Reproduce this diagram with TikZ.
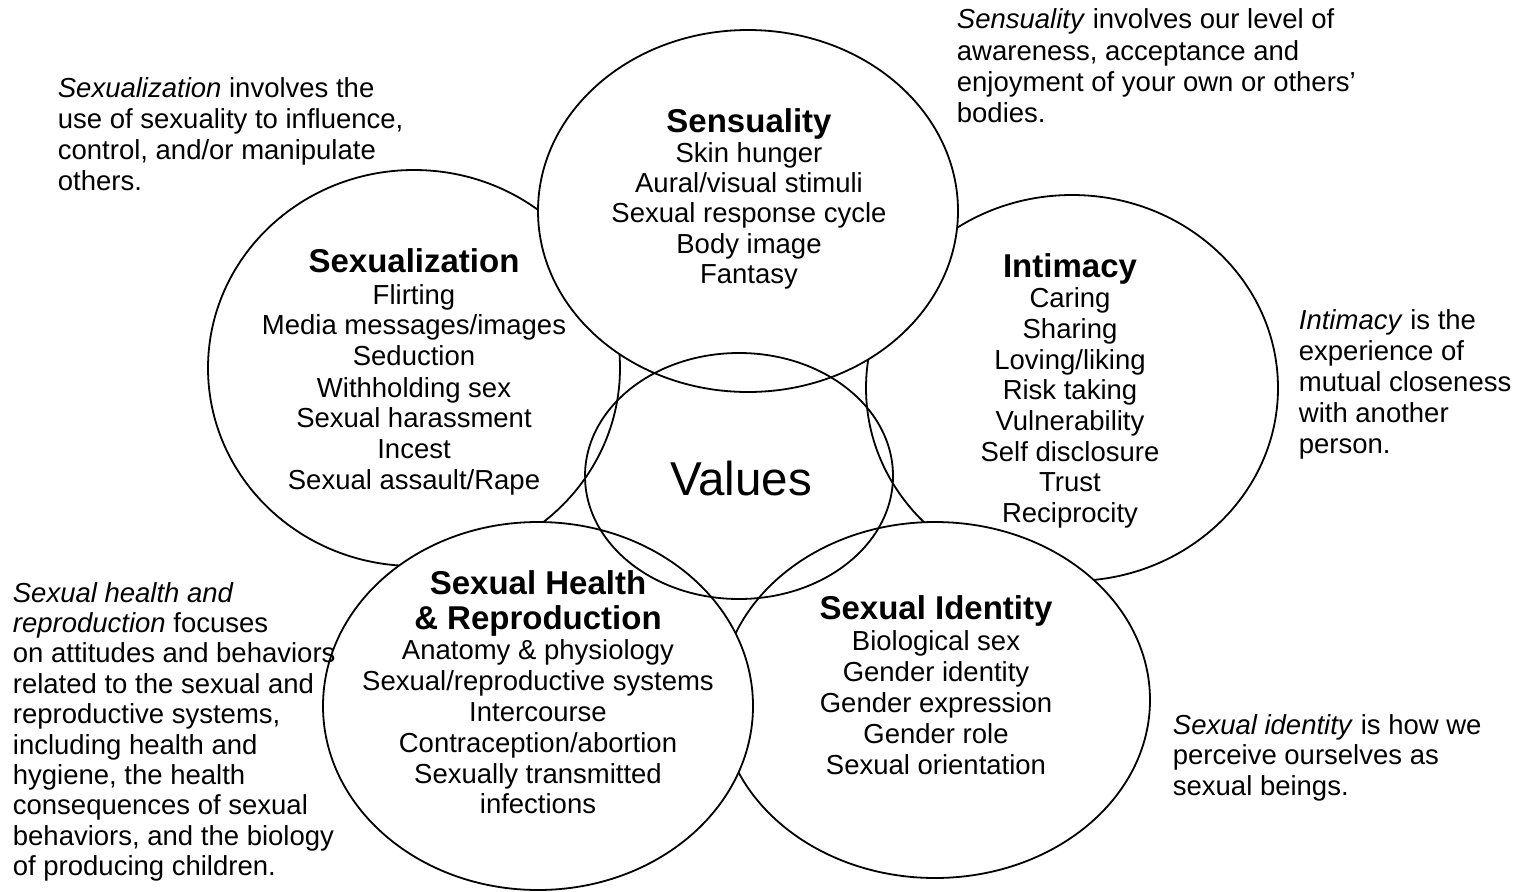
\documentclass[tikz,border=0pt]{standalone}
\usepackage{fontspec}
\setmainfont{Liberation Sans}

\begin{document}
\begin{tikzpicture}[x=1pt,y=-1pt,line width=1.8pt,
  bubble/.style={draw,fill=white},
  ring/.style={draw},
  head/.style={anchor=base,inner sep=0pt,font=\fontsize{33}{36}\selectfont\bfseries},
  item/.style={anchor=base,inner sep=0pt,font=\fontsize{27.5}{30}\selectfont},
  note/.style={anchor=base west,inner sep=0pt,font=\fontsize{27.5}{30}\selectfont}]

\useasboundingbox (0,0) rectangle (1517,891);


% circles, back to front
\draw[bubble] (414,368) ellipse [x radius=206, y radius=198]; %sexualization
\draw[bubble] (1072,388) ellipse [x radius=206, y radius=193]; %intimacy
\draw[bubble] (748,211) ellipse [x radius=210, y radius=181]; %sensuality
\draw[bubble] (935,700) ellipse [x radius=215, y radius=178]; %identity
\draw[bubble] (538,706) ellipse [x radius=215, y radius=184]; %health
\draw[ring] (739,476) ellipse [x radius=154, y radius=123]; %values



% sensuality
\node[head] (senT) at (749,132) {Sensuality};
\node[item] (sen1) at (749,162) {Skin hunger};
\node[item] (sen2) at (749,192) {Aural/visual stimuli};
\node[item] (sen3) at (749,222) {Sexual response cycle};
\node[item] (sen4) at (749,253) {Body image};
\node[item] (sen5) at (749,283) {Fantasy};

% sexualization
\node[head] (sxzT) at (414,272) {Sexualization};
\node[item] (sxz1) at (414,304) {Flirting};
\node[item] (sxz2) at (414,334.5) {Media messages/images};
\node[item] (sxz3) at (414,365.5) {Seduction};
\node[item] (sxz4) at (414,397) {Withholding sex};
\node[item] (sxz5) at (414,427.5) {Sexual harassment};
\node[item] (sxz6) at (414,458) {Incest};
\node[item] (sxz7) at (414,489) {Sexual assault/Rape};

% intimacy
\node[head] (intT) at (1070,277) {Intimacy};
\node[item] (int1) at (1070,307.5) {Caring};
\node[item] (int2) at (1070,338) {Sharing};
\node[item] (int3) at (1070,369) {Loving/liking};
\node[item] (int4) at (1070,399.5) {Risk taking};
\node[item] (int5) at (1070,430) {Vulnerability};
\node[item] (int6) at (1070,461) {Self disclosure};
\node[item] (int7) at (1070,491.5) {Trust};
\node[item] (int8) at (1070,522.5) {Reciprocity};

% values
\node[anchor=base,inner sep=0pt,font=\fontsize{47.5}{50}\selectfont] (val) at (741,495) {Values};

% sexual health
\node[head] (hltT) at (538,594) {Sexual Health};
\node[head] (hltU) at (538,629) {\& Reproduction};
\node[item] (hlt1) at (538,659) {Anatomy \& physiology};
\node[item] (hlt2) at (538,690) {Sexual/reproductive systems};
\node[item] (hlt3) at (538,721) {Intercourse};
\node[item] (hlt4) at (538,752.5) {Contraception/abortion};
\node[item] (hlt5) at (538,783.5) {Sexually transmitted};
\node[item] (hlt6) at (538,813.5) {infections};

% sexual identity
\node[head] (idnT) at (936,619) {Sexual Identity};
\node[item] (idn1) at (936,650) {Biological sex};
\node[item] (idn2) at (936,681) {Gender identity};
\node[item] (idn3) at (936,712) {Gender expression};
\node[item] (idn4) at (936,743) {Gender role};
\node[item] (idn5) at (936,774) {Sexual orientation};



% side notes
\node[note] (nsx1) at (57,97) {\textit{Sexualization} involves the};
\node[note] (nsx2) at (57,128) {use of sexuality to influence,};
\node[note] (nsx3) at (57,159) {control, and/or manipulate};
\node[note] (nsx4) at (57,190) {others.};

\node[note] (nse1) at (956,29) {\textit{Sensuality} involves our level of};
\node[note] (nse2) at (956,60) {awareness, acceptance and};
\node[note] (nse3) at (956,91) {enjoyment of your own or others'};
\node[note] (nse4) at (956,122) {bodies.};

\node[note] (nin1) at (1298,329) {\textit{Intimacy} is the};
\node[note] (nin2) at (1298,360) {experience of};
\node[note] (nin3) at (1298,391) {mutual closeness};
\node[note] (nin4) at (1298,422) {with another};
\node[note] (nin5) at (1298,453) {person.};

\node[note] (nhl1) at (12,602) {\textit{Sexual health and}};
\node[note] (nhl2) at (12,632.4) {\textit{reproduction} focuses};
\node[note] (nhl3) at (12,662.8) {on attitudes and behaviors};
\node[note] (nhl4) at (12,693.2) {related to the sexual and};
\node[note] (nhl5) at (12,723.6) {reproductive systems,};
\node[note] (nhl6) at (12,754) {including health and};
\node[note] (nhl7) at (12,784.4) {hygiene, the health};
\node[note] (nhl8) at (12,814.8) {consequences of sexual};
\node[note] (nhl9) at (12,845.2) {behaviors, and the biology};
\node[note] (nhlA) at (12,875.6) {of producing children.};

\node[note] (nid1) at (1172,734) {\textit{Sexual identity} is how we};
\node[note] (nid2) at (1172,764.5) {perceive ourselves as};
\node[note] (nid3) at (1172,795) {sexual beings.};

\end{tikzpicture}
\end{document}
